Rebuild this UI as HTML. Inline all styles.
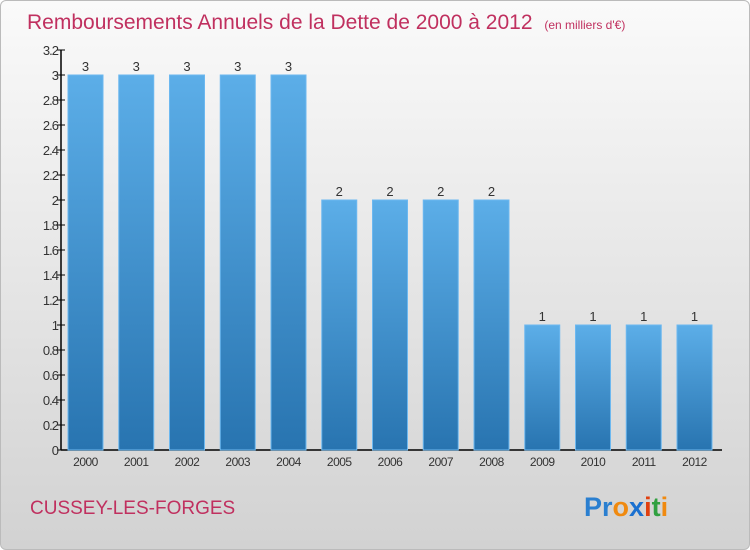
<!DOCTYPE html>
<html><head><meta charset="utf-8"><style>
body{margin:0;width:750px;height:550px;overflow:hidden;font-family:"Liberation Sans",sans-serif}
#bg{position:absolute;left:0;top:0;width:748px;height:548px;border:1px solid #bbb;border-radius:6px;background:linear-gradient(#fafafa,#d2d2d2)}
</style></head><body>
<div id="bg"></div>
<svg width="750" height="550" style="position:absolute;left:0;top:0">
<defs><linearGradient id="bar" x1="0" y1="0" x2="0" y2="1"><stop offset="0" stop-color="#5caee8"/><stop offset="1" stop-color="#2874b0"/></linearGradient></defs>
<text x="27" y="29" font-size="21" fill="#c0305f">Remboursements Annuels de la Dette de 2000 à 2012 <tspan font-size="12" dx="6">(en milliers d'€)</tspan></text>
<g id="axes"></g><g id="bars"></g>
<text x="30" y="514" font-size="19" fill="#c0305f">CUSSEY-LES-FORGES</text>
<text x="584" y="516" font-size="27" font-weight="bold"><tspan fill="#2a7fd0">Pr</tspan><tspan fill="#f08a10">o</tspan><tspan fill="#1a70d0">x</tspan><tspan fill="#e04010">i</tspan><tspan fill="#30a040">t</tspan><tspan fill="#f08a10">i</tspan></text>
</svg>
<script>
const categories=["2000","2001","2002","2003","2004","2005","2006","2007","2008","2009","2010","2011","2012"];
const values=[3,3,3,3,3,2,2,2,2,1,1,1,1];
const valueLabels=["3","3","3","3","3","2","2","2","2","1","1","1","1"];
const yTicks=[0,0.2,0.4,0.6,0.8,1,1.2,1.4,1.6,1.8,2,2.2,2.4,2.6,2.8,3,3.2];
const NS="http://www.w3.org/2000/svg";
const y=v=>450-v*125;
const x=i=>68+i*50.75;
const bw=35;
function mk(t,a,p){const e=document.createElementNS(NS,t);for(const k in a)e.setAttribute(k,a[k]);p.appendChild(e);return e;}
const ax=document.getElementById('axes'),bs=document.getElementById('bars');
let l=mk('line',{x1:61,y1:y(3.2),x2:61,y2:450,stroke:'#000','stroke-width':1.5},ax);


l=mk('line',{x1:61,y1:450,x2:722,y2:450,stroke:'#000','stroke-width':1.5},ax);


yTicks.forEach(v=>{
 const t=mk('line',{x1:57,y1:y(v),x2:65,y2:y(v),stroke:'#000'},ax);
 
 
 const tx=mk('text',{x:58,y:y(v)+5,'font-size':13,'text-anchor':'end',fill:'#333','letter-spacing':'-1'},ax);
 tx.textContent=String(v);
 
 
});
categories.forEach((c,i)=>{
 const r=mk('rect',{x:x(i),y:y(values[i]),width:bw,height:450-y(values[i]),fill:'url(#bar)',stroke:'#6cb8f0','stroke-width':1},bs);
 
 
 const v=mk('text',{x:x(i)+bw/2,y:y(values[i])-4,'font-size':13,'text-anchor':'middle',fill:'#333'},bs);
 v.textContent=valueLabels[i];
 
 
 const t=mk('text',{x:x(i)+bw/2,y:466,'font-size':12,'text-anchor':'middle',fill:'#333','letter-spacing':'-0.5'},bs);
 t.textContent=c;
 
 
});
</script>
</body></html>
